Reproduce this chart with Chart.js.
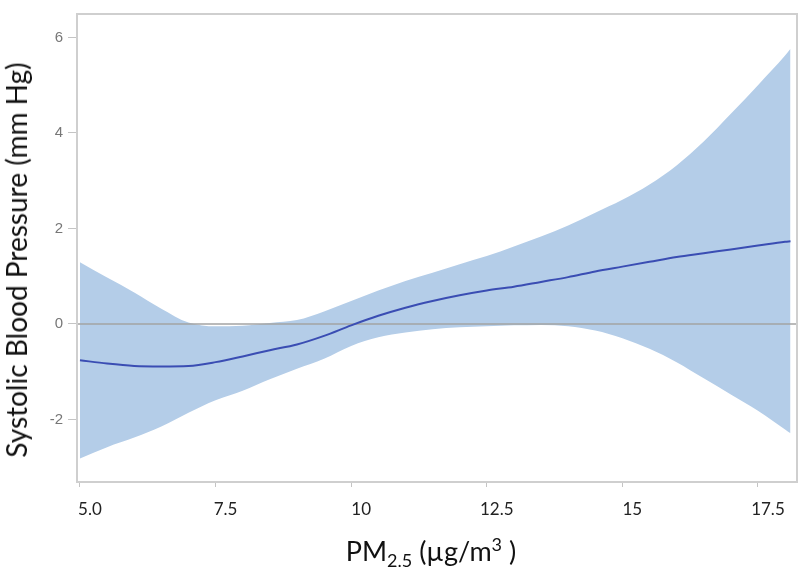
<!DOCTYPE html>
<html>
<head>
<meta charset="utf-8">
<script src="https://cdn.jsdelivr.net/npm/chart.js@4.4.1/dist/chart.umd.min.js"></script>
<style>
  html, body { margin: 0; padding: 0; background: #fff; }
  #wrap { position: relative; width: 800px; height: 572px; }
  .axisTitle {
    position: absolute; white-space: nowrap; color: #111;
    font-family: Lato, "Open Sans", sans-serif;
  }
  #xTitle { left: 431px; top: 550px; font-size: 27px; transform: translate(-50%, -50%); }
  #yTitle { left: 16px; top: 260px; font-size: 28px; transform: translate(-50%, -50%) rotate(-90deg); }
  #xTitle sub { font-size: 18px; vertical-align: -6px; line-height: 0; }
  #xTitle sup { font-size: 18px; vertical-align: 10px; line-height: 0; }
</style>
</head>
<body>
<div id="wrap">
  <canvas id="myChart" width="800" height="572"></canvas>
  <div id="xTitle" class="axisTitle">PM<sub>2.5</sub> (µg/m<sup>3</sup> )</div>
  <div id="yTitle" class="axisTitle">Systolic Blood Pressure (mm Hg)</div>
</div>
<script>
// PM2.5 concentration (µg/m3)
const pm25 = [5.0, 5.5, 6.0, 6.5, 7.0, 7.5, 8.0, 8.5, 9.0, 9.5, 10, 10.5, 11, 11.5, 12,
  12.5, 13, 13.5, 14, 14.5, 15, 15.5, 16, 16.5, 17, 17.5, 18, 18.1];
// estimated change in systolic BP
const sbpMean = [-0.76, -0.83, -0.88, -0.89, -0.88, -0.80, -0.68, -0.55, -0.43, -0.25, -0.03, 0.17,
  0.34, 0.48, 0.60, 0.70, 0.78, 0.88, 0.98, 1.10, 1.20, 1.30, 1.40, 1.48, 1.56, 1.64, 1.72, 1.73];
const sbpUpper = [1.29, 0.97, 0.66, 0.32, 0.03, -0.05, -0.04, 0.02, 0.08, 0.26, 0.48, 0.70,
  0.90, 1.07, 1.25, 1.42, 1.62, 1.83, 2.06, 2.33, 2.60, 2.92, 3.32, 3.82, 4.40, 5.00, 5.62, 5.76];
const sbpLower = [-2.82, -2.58, -2.38, -2.15, -1.86, -1.60, -1.40, -1.16, -0.94, -0.73, -0.46, -0.28,
  -0.18, -0.11, -0.07, -0.05, -0.03, -0.02, -0.05, -0.14, -0.30, -0.52, -0.80, -1.14, -1.48, -1.82, -2.21, -2.29];

const xTicks = [5, 7.5, 10, 12.5, 15, 17.5];
const xTickLabels = ["5.0", "7.5", "10", "12.5", "15", "17.5"];
const yTicks = [-2, 0, 2, 4, 6];

const toPoints = (ys) => pm25.map((x, i) => ({ x: x, y: ys[i] }));

// zero reference line (under the mean line) and the frame round the plot
const framePlugin = {
  id: "frame",
  beforeDatasetDraw(chart, args) {
    if (args.index !== 2) return;
    const { ctx, chartArea, scales } = chart;
    const y0 = scales.y.getPixelForValue(0);
    ctx.save();
    ctx.strokeStyle = "#a3a3a3";
    ctx.lineWidth = 1.5;
    ctx.beginPath();
    ctx.moveTo(chartArea.left, y0);
    ctx.lineTo(chartArea.right, y0);
    ctx.stroke();
    ctx.restore();
  },
  afterDraw(chart) {
    const { ctx, chartArea } = chart;
    ctx.save();
    ctx.strokeStyle = "#cfcfcf";
    ctx.lineWidth = 2;
    ctx.strokeRect(chartArea.left, chartArea.top, chartArea.right - chartArea.left, chartArea.bottom - chartArea.top);
    ctx.restore();
  }
};

new Chart(document.getElementById("myChart"), {
  type: "line",
  data: {
    datasets: [
      {
        label: "Upper",
        data: toPoints(sbpUpper),
        order: 3,
        borderWidth: 0,
        pointRadius: 0,
        backgroundColor: "#b4cde8",
        fill: "+1",
        cubicInterpolationMode: "monotone"
      },
      {
        label: "Lower",
        data: toPoints(sbpLower),
        order: 2,
        borderWidth: 0,
        pointRadius: 0,
        fill: false,
        cubicInterpolationMode: "monotone"
      },
      {
        label: "Mean",
        data: toPoints(sbpMean),
        order: 1,
        borderColor: "#3a4db3",
        borderWidth: 2,
        pointRadius: 0,
        fill: false,
        cubicInterpolationMode: "monotone"
      }
    ]
  },
  options: {
    responsive: false,
    animation: false,
    layout: { padding: { top: 2, right: 3, left: 0, bottom: 0 } },
    plugins: { legend: { display: false }, tooltip: { enabled: false } },
    scales: {
      x: {
        type: "linear",
        min: 4.945,
        max: 18.22,
        afterBuildTicks: (scale) => { scale.ticks = xTicks.map((v) => ({ value: v })); },
        afterFit: (scale) => { scale.height = 90; },
        grid: { drawOnChartArea: false, tickLength: 5, tickColor: "#c4c4c4" },
        border: { display: false },
        ticks: {
          padding: 12,
          labelOffset: 10,
          color: "#222",
          font: { family: "Lato", size: 17 },
          callback: (v) => xTickLabels[xTicks.indexOf(v)]
        }
      },
      y: {
        min: -3.31,
        max: 6.49,
        afterBuildTicks: (scale) => { scale.ticks = yTicks.map((v) => ({ value: v })); },
        afterFit: (scale) => { scale.width = 77; },
        grid: { drawOnChartArea: false, tickLength: 9, tickColor: "#c4c4c4" },
        border: { display: false },
        ticks: {
          padding: 5,
          color: "#777",
          font: { family: "Liberation Sans Narrow, Arial", size: 15 }
        }
      }
    }
  },
  plugins: [framePlugin]
});
</script>
</body>
</html>
